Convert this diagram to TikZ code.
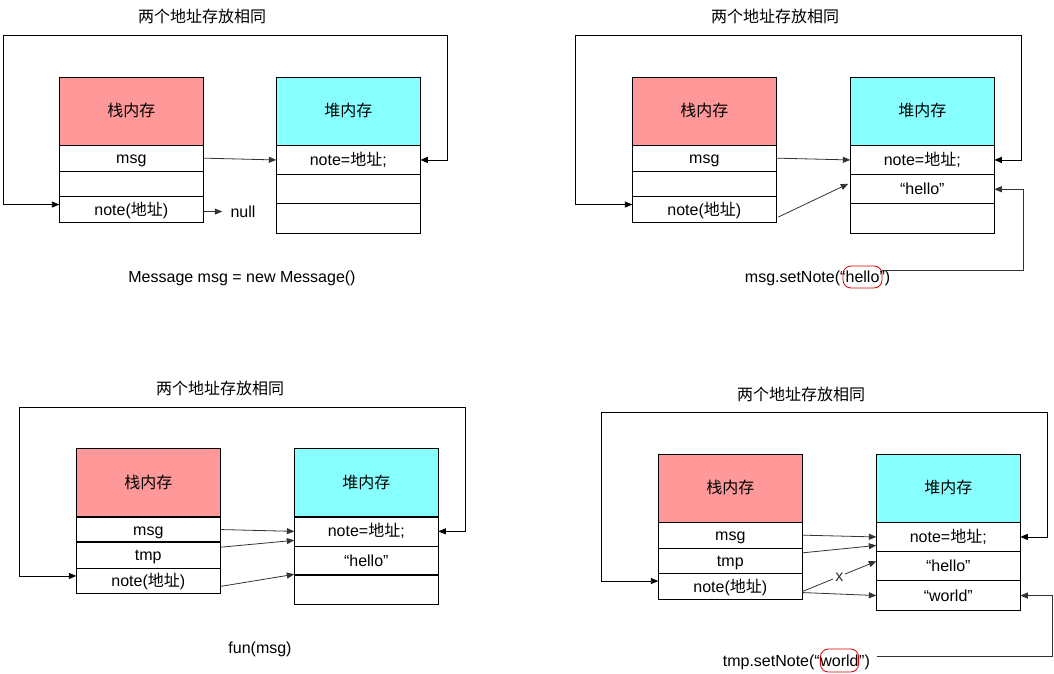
\documentclass[tikz,border=0pt]{standalone}
\usepackage{fontspec}
\setmainfont{Liberation Sans}
\newfontfamily\cjk{Noto Sans CJK SC}
\newcommand{\zh}[1]{{\cjk #1}}
\usetikzlibrary{arrows.meta, positioning}
\definecolor{stackred}{RGB}{255,153,153}
\definecolor{heapcyan}{RGB}{136,255,255}

\begin{document}
\begin{tikzpicture}[
        x=1pt, y=-1pt,
        font=\fontsize{16}{19}\selectfont,
        every node/.style={text height=13pt, text depth=2pt},
        node distance=0pt,
        head/.style={rectangle, draw=black, line width=0.9pt, outer sep=0pt, inner sep=0pt, minimum width=144pt, minimum height=68pt, anchor=north west},
        stackhead/.style={head, fill=stackred},
        heaphead/.style={head, fill=heapcyan},
        srow/.style={rectangle, draw=black, line width=0.9pt, outer sep=0pt, inner sep=0pt, fill=white, minimum width=144pt, minimum height=25.7pt},
        hrow/.style={srow, minimum height=29.3pt},
        seam/.style={line width=2pt},
        arrow/.style={-{Triangle[length=7.5pt,width=6pt]}, line width=0.8pt, black!80},
        sameaddr/.style={{Triangle[length=7.5pt,width=6pt]}-{Triangle[length=7.5pt,width=6pt]}, line width=0.9pt},
        hilite/.style={rectangle, draw=red!85!black, rounded corners=8pt, line width=0.8pt, inner sep=0pt, minimum height=22pt},
        part/.style={inner sep=0pt}
    ]
        \useasboundingbox (0,0) rectangle (1054,674);

        % Message msg = new Message()
        \node (t1) at (202,17) {\zh{两个地址存放相同}};
        \node[stackhead] (s1) at (59.3,77.3) {\zh{栈内存}};
        \node[srow, below=of s1] (s1m) {msg};
        \node[srow, below=of s1m] (s1e) {};
        \node[srow, below=of s1e] (s1n) {note(\zh{地址})};
        \node[heaphead] (h1) at (276.3,77.3) {\zh{堆内存}};
        \node[hrow, below=of h1] (h1a) {note=\zh{地址};};
        \node[hrow, below=of h1a] (h1b) {};
        \node[hrow, below=of h1b] (h1c) {};
        \node[right=27pt of s1n, inner sep=0pt, yshift=-2pt] (null1) {null};
        \node (c1) at (242,277) {Message msg = new Message()};

        \draw[arrow] (s1m.east) -- (h1a.west);
        \draw[arrow] ([yshift=-2pt]s1n.east) -- ([xshift=-8pt]null1.west);
        \draw[sameaddr] ([yshift=5pt]s1n.west) -- ++(-56,0) |- (447,35) |- (h1a.east);

        % msg.setNote("hello")
        \node (t2) at (775,17) {\zh{两个地址存放相同}};
        \node[stackhead] (s2) at (632.3,77.3) {\zh{栈内存}};
        \node[srow, below=of s2] (s2m) {msg};
        \node[srow, below=of s2m] (s2e) {};
        \node[srow, below=of s2e] (s2n) {note(\zh{地址})};
        \node[heaphead] (h2) at (850.3,77.3) {\zh{堆内存}};
        \node[hrow, below=of h2] (h2a) {note=\zh{地址};};
        \node[hrow, below=of h2a] (h2b) {“hello”};
        \node[hrow, below=of h2b] (h2c) {};
        \node[hilite, minimum width=39pt] (w2) at (862.5,277) {hello};
        \node[part, anchor=base east] (c2a) at ([xshift=3pt]w2.base west) {msg.setNote(“};
        \node[part, anchor=base west] (c2b) at ([xshift=-3pt]w2.base east) {”)};

        \draw[arrow] (s2m.east) -- (h2a.west);
        \draw[arrow] ([xshift=2pt,yshift=-7.5pt]s2n.east) -- ([xshift=-2pt,yshift=5.5pt]h2b.west);
        \draw[sameaddr] ([yshift=5pt]s2n.west) -- ++(-57,0) |- (1021,35) |- (h2a.east);
        \draw[arrow] ([yshift=7pt]w2.east) -- ++(141,0) |- (h2b.east);

        % fun(msg)
        \node (t3) at (220,389) {\zh{两个地址存放相同}};
        \node[stackhead] (s3) at (76.3,448.7) {\zh{栈内存}};
        \node[srow, below=of s3] (s3m) {msg};
        \node[srow, below=of s3m] (s3t) {tmp};
        \node[srow, below=of s3t] (s3n) {note(\zh{地址})};
        \node[heaphead] (h3) at (294.3,448.7) {\zh{堆内存}};
        \node[hrow, below=of h3] (h3a) {note=\zh{地址};};
        \node[hrow, below=of h3a] (h3b) {“hello”};
        \node[hrow, below=of h3b] (h3c) {};
        \node (c3) at (260,648) {fun(msg)};

        \draw[seam] (s3.south west) -- (s3.south east);
        \draw[seam] (s3m.south west) -- (s3m.south east);
        \draw[seam] (h3.south west) -- (h3.south east);
        \draw[seam] (h3b.south west) -- (h3b.south east);

        \draw[arrow] (s3m.east) -- (h3a.west);
        \draw[arrow] ([yshift=8pt]s3t.east) -- ([yshift=-9pt]h3a.west);
        \draw[arrow] ([yshift=-5.5pt]s3n.east) -- ([yshift=1pt]h3c.north west);
        \draw[sameaddr] ([yshift=5pt]s3n.west) -- ++(-57,0) |- (465,407) |- (h3a.east);

        % tmp.setNote("world")
        \node (t4) at (801,395) {\zh{两个地址存放相同}};
        \node[stackhead] (s4) at (658.3,454.3) {\zh{栈内存}};
        \node[srow, below=of s4] (s4m) {msg};
        \node[srow, below=of s4m] (s4t) {tmp};
        \node[srow, below=of s4t] (s4n) {note(\zh{地址})};
        \node[heaphead] (h4) at (876.3,454.3) {\zh{堆内存}};
        \node[hrow, below=of h4] (h4a) {note=\zh{地址};};
        \node[hrow, below=of h4a] (h4b) {“hello”};
        \node[hrow, below=of h4b] (h4c) {“world”};
        \node[hilite, minimum width=38pt, minimum height=23pt] (w4) at (839.5,660.5) {world};
        \node[part, anchor=base east] (c4a) at (w4.base west) {tmp.setNote(“};
        \node[part, anchor=base west] (c4b) at (w4.base east) {”)};

        \draw[arrow] (s4m.east) -- (h4a.west);
        \draw[arrow] ([yshift=8pt]s4t.east) -- ([yshift=-8.5pt]h4a.west);
        \draw[arrow] ([yshift=-5pt]s4n.east) -- node[fill=white, inner sep=2pt] (x4) {x} ([yshift=5pt]h4b.west);
        \draw[arrow] ([yshift=-6pt]s4n.east) -- (h4c.west);
        \draw[sameaddr] ([yshift=5.5pt]s4n.west) -- ++(-57,0) |- (1047,412) |- (h4a.east);
        \draw[arrow] ([xshift=18pt,yshift=4.5pt]w4.east) -- ++(175.5,0) |- (h4c.east);
    \end{tikzpicture}
\end{document}
